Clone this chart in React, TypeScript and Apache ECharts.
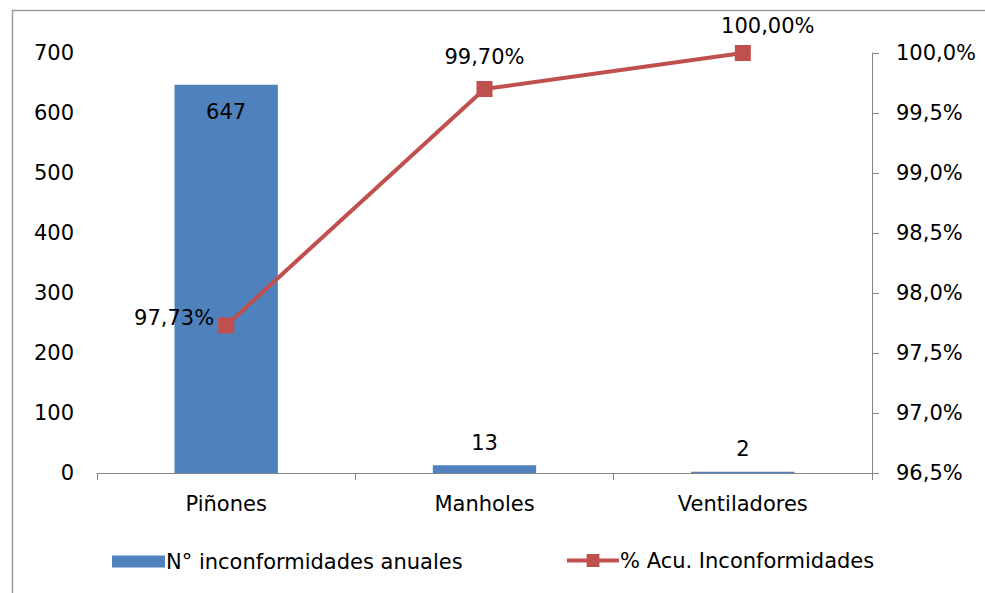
import React, { useEffect, useRef } from "react";
import * as echarts from "echarts";

// Annual non-conformities by component, with cumulative percentage (Pareto)
const categories = ["Piñones", "Manholes", "Ventiladores"];
const annualCounts = [647, 13, 2];
const cumulativePct = [97.73, 99.7, 100.0];
const countTicks = { min: 0, max: 700, interval: 100 };
const pctTicks = { min: 96.5, max: 100, interval: 0.5 };
const seriesNames = ["N° inconformidades anuales", "% Acu. Inconformidades"];

const FONT = "'Century Gothic', 'DejaVu Sans', sans-serif";
const BAR_COLOR = "#4F81BD";
const LINE_COLOR = "#C0504D";
const AXIS_GRAY = "#868686";
const FS = 21;

const comma = (s: string) => s.replace(".", ",");

export default function App() {
  const ref = useRef<HTMLDivElement>(null);

  useEffect(() => {
    if (!ref.current) return;
    const chart = echarts.init(ref.current, undefined, { renderer: "svg" });

    const barData = annualCounts.map((v) => ({
      value: v,
      label:
        v > 100
          ? { position: "insideTop" as const, distance: 17 }
          : { position: "top" as const, distance: 12 },
    }));

    const lineLabelPos = [
      { position: "left" as const, distance: 4, offset: [0, -7] },
      { position: "top" as const, distance: 14, offset: [0, 0] },
      { position: "top" as const, distance: 9, offset: [25, 0] },
    ];
    const lineData = cumulativePct.map((v, i) => ({ value: v, label: lineLabelPos[i] }));

    const legendText = { fontFamily: FONT, fontSize: FS, color: "#000", padding: [0, 0, 0, -4] };

    chart.setOption({
      animation: false,
      backgroundColor: "#ffffff",
      textStyle: { fontFamily: FONT, color: "#000" },
      graphic: [
        {
          type: "polyline",
          shape: { points: [[12.5, 600], [12.5, 10.5], [990, 10.5]] },
          style: { stroke: "#9a9a9a", lineWidth: 1.5, fill: null },
          silent: true,
        },
      ],
      grid: { left: 97, right: 113, top: 53, bottom: 120 },
      legend: [
        {
          left: 107,
          top: 546,
          itemWidth: 53,
          itemHeight: 12,
          textStyle: legendText,
          data: [{ name: seriesNames[0], icon: "rect" }],
        },
        {
          left: 560,
          top: 545,
          itemWidth: 52,
          itemHeight: 16,
          textStyle: legendText,
          data: [{ name: seriesNames[1], lineStyle: { width: 4 } }],
        },
      ],
      xAxis: {
        type: "category",
        data: categories,
        boundaryGap: true,
        axisLine: { show: true, lineStyle: { color: AXIS_GRAY, width: 1 } },
        axisTick: { show: true, length: 7, alignWithLabel: false, lineStyle: { color: AXIS_GRAY } },
        axisLabel: { fontFamily: FONT, fontSize: FS, color: "#000", margin: 20 },
        splitLine: { show: false },
      },
      yAxis: [
        {
          type: "value",
          min: countTicks.min,
          max: countTicks.max,
          interval: countTicks.interval,
          axisLine: { show: false },
          axisTick: { show: false },
          splitLine: { show: false },
          axisLabel: { fontFamily: FONT, fontSize: FS, color: "#000", margin: 23 },
        },
        {
          type: "value",
          position: "right",
          min: pctTicks.min,
          max: pctTicks.max,
          interval: pctTicks.interval,
          axisLine: { show: true, lineStyle: { color: AXIS_GRAY, width: 1 } },
          axisTick: { show: true, inside: false, length: 7, lineStyle: { color: AXIS_GRAY } },
          splitLine: { show: false },
          axisLabel: {
            fontFamily: FONT,
            fontSize: FS,
            color: "#000",
            margin: 24,
            formatter: (v: number) => comma(v.toFixed(1)) + "%",
          },
        },
      ],
      series: [
        {
          name: seriesNames[0],
          type: "bar",
          yAxisIndex: 0,
          data: barData,
          barWidth: "40%",
          itemStyle: { color: BAR_COLOR },
          label: {
            show: true,
            fontFamily: FONT,
            fontSize: FS,
            color: "#000",
          },
        },
        {
          name: seriesNames[1],
          type: "line",
          yAxisIndex: 1,
          data: lineData,
          symbol: "rect",
          symbolSize: 16,
          lineStyle: { color: LINE_COLOR, width: 4 },
          itemStyle: { color: LINE_COLOR },
          label: {
            show: true,
            fontFamily: FONT,
            fontSize: FS,
            color: "#000",
            formatter: (p: any) => comma(Number(p.value).toFixed(2)) + "%",
          },
          z: 5,
        },
      ],
    });

    return () => chart.dispose();
  }, []);

  return (
    <div
      ref={ref}
      style={{ position: "fixed", left: 0, top: 0, width: 985, height: 593, background: "#fff" }}
    />
  );
}
